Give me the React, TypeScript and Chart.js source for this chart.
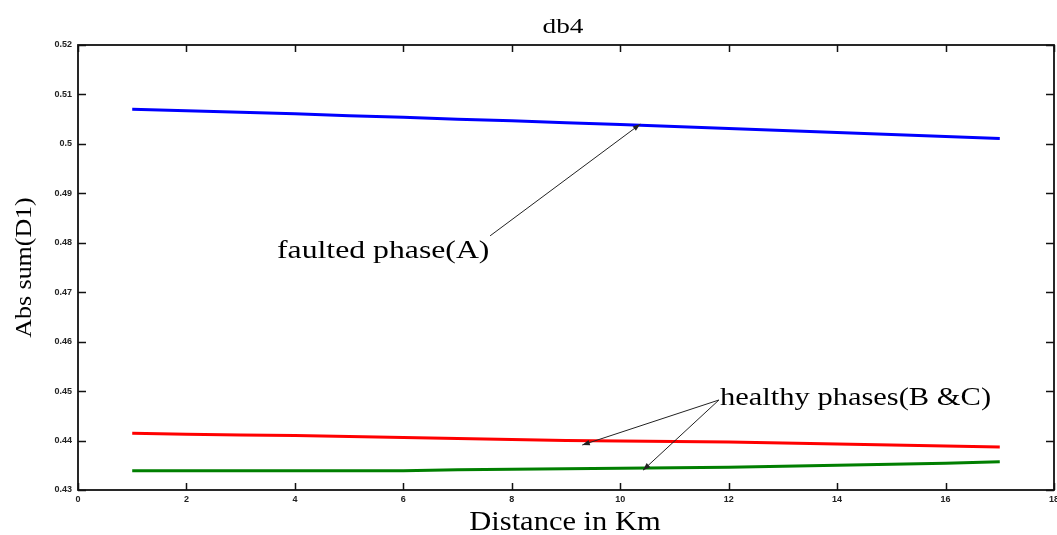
import { useEffect, useRef } from 'react';
import { Chart, registerables } from 'chart.js';

Chart.register(...registerables);

// ---- data ----
const distanceKm = [1, 2, 3, 4, 5, 6, 7, 8, 9, 10, 11, 12, 13, 14, 15, 16, 17];
const faultedPhaseA = [0.5070, 0.5067, 0.5064, 0.5061, 0.5057, 0.5054, 0.5050, 0.5047, 0.5043, 0.5039, 0.5035, 0.5031, 0.5027, 0.5023, 0.5019, 0.5015, 0.5011];
const healthyPhaseB = [0.4415, 0.4413, 0.4411, 0.441, 0.4408, 0.4406, 0.4404, 0.4402, 0.44, 0.4399, 0.4398, 0.4397, 0.4395, 0.4393, 0.4391, 0.4389, 0.4387];
const healthyPhaseC = [0.4339, 0.4339, 0.4339, 0.4339, 0.4339, 0.4339, 0.4341, 0.4342, 0.4343, 0.4344, 0.4345, 0.4346, 0.4348, 0.435, 0.4352, 0.4354, 0.4357];
const xTickValues = [0, 2, 4, 6, 8, 10, 12, 14, 16, 18];
const yTickValues = [0.43, 0.44, 0.45, 0.46, 0.47, 0.48, 0.49, 0.5, 0.51, 0.52];
const chartTitle = 'db4';
const xAxisTitle = 'Distance in Km';
const yAxisTitle = 'Abs sum(D1)';
const faultedLabel = 'faulted phase(A)';
const healthyLabel = 'healthy phases(B &C)';
// annotation anchors (data units)
const faultedTextAt = { x: 3.67, y: 0.4769 };
const faultedArrowFrom = { x: 7.6, y: 0.4814 };
const faultedArrowTo = { x: 10.37, y: 0.504 };
const healthyTextAt = { x: 11.84, y: 0.4472 };
const healthyArrowFrom = { x: 11.82, y: 0.4482 };
const healthyArrowToB = { x: 9.3, y: 0.4391 };
const healthyArrowToC = { x: 10.42, y: 0.434 };

const SERIF = '"Liberation Serif", "Times New Roman", serif';

function drawStretched(ctx: CanvasRenderingContext2D, text: string, x: number, y: number, font: string, sx: number, align: CanvasTextAlign) {
  ctx.save();
  ctx.font = font;
  ctx.textAlign = align;
  ctx.textBaseline = 'alphabetic';
  ctx.translate(x, y);
  ctx.scale(sx, 1);
  ctx.fillText(text, 0, 0);
  ctx.restore();
}

function drawArrow(ctx: CanvasRenderingContext2D, x1: number, y1: number, x2: number, y2: number) {
  ctx.save();
  ctx.strokeStyle = '#222';
  ctx.fillStyle = '#222';
  ctx.lineWidth = 1;
  ctx.beginPath();
  ctx.moveTo(x1, y1);
  ctx.lineTo(x2, y2);
  ctx.stroke();
  const a = Math.atan2(y2 - y1, x2 - x1);
  const len = 8;
  const w = 0.35;
  ctx.beginPath();
  ctx.moveTo(x2, y2);
  ctx.lineTo(x2 - len * Math.cos(a - w), y2 - len * Math.sin(a - w));
  ctx.lineTo(x2 - len * Math.cos(a + w), y2 - len * Math.sin(a + w));
  ctx.closePath();
  ctx.fill();
  ctx.restore();
}

const decorPlugin = {
  id: 'decor',
  afterDraw(chart: any) {
    const { ctx, chartArea, scales } = chart;
    const xs = scales.x;
    const ys = scales.y;
    const { left, right, top, bottom } = chartArea;
    ctx.save();
    // frame
    ctx.strokeStyle = '#111';
    ctx.lineWidth = 1.8;
    ctx.strokeRect(left, top, right - left, bottom - top);
    // inward ticks
    ctx.lineWidth = 1.5;
    ctx.beginPath();
    xTickValues.forEach((v) => {
      const px = Math.round(xs.getPixelForValue(v)) + 0.5;
      ctx.moveTo(px, bottom);
      ctx.lineTo(px, bottom - 7);
      ctx.moveTo(px, top);
      ctx.lineTo(px, top + 7);
    });
    yTickValues.forEach((v) => {
      const py = Math.round(ys.getPixelForValue(v)) + 0.5;
      ctx.moveTo(left, py);
      ctx.lineTo(left + 8, py);
      ctx.moveTo(right, py);
      ctx.lineTo(right - 8, py);
    });
    ctx.stroke();

    ctx.fillStyle = '#000';
    const cx = (left + right) / 2;
    // title
    drawStretched(ctx, chartTitle, cx - 3, top - 12, `21px ${SERIF}`, 1.3, 'center');
    // x title
    drawStretched(ctx, xAxisTitle, cx - 1, bottom + 40, `27px ${SERIF}`, 1.13, 'center');
    // y title
    ctx.save();
    ctx.translate(31, (top + bottom) / 2);
    ctx.rotate(-Math.PI / 2);
    drawStretched(ctx, yAxisTitle, 0, 0, `24px ${SERIF}`, 1.08, 'center');
    ctx.restore();

    // annotations
    drawStretched(ctx, faultedLabel, xs.getPixelForValue(faultedTextAt.x), ys.getPixelForValue(faultedTextAt.y), `25px ${SERIF}`, 1.27, 'left');
    drawStretched(ctx, healthyLabel, xs.getPixelForValue(healthyTextAt.x), ys.getPixelForValue(healthyTextAt.y), `25px ${SERIF}`, 1.22, 'left');
    drawArrow(ctx, xs.getPixelForValue(faultedArrowFrom.x), ys.getPixelForValue(faultedArrowFrom.y), xs.getPixelForValue(faultedArrowTo.x), ys.getPixelForValue(faultedArrowTo.y));
    drawArrow(ctx, xs.getPixelForValue(healthyArrowFrom.x), ys.getPixelForValue(healthyArrowFrom.y), xs.getPixelForValue(healthyArrowToB.x), ys.getPixelForValue(healthyArrowToB.y));
    drawArrow(ctx, xs.getPixelForValue(healthyArrowFrom.x), ys.getPixelForValue(healthyArrowFrom.y), xs.getPixelForValue(healthyArrowToC.x), ys.getPixelForValue(healthyArrowToC.y));
    ctx.restore();
  },
};

function toPoints(values: number[]) {
  return values.map((v, i) => ({ x: distanceKm[i], y: v }));
}

export default function App() {
  const canvasRef = useRef<HTMLCanvasElement | null>(null);

  useEffect(() => {
    if (!canvasRef.current) return;
    const lineDs = (label: string, values: number[], color: string) => ({
      label,
      data: toPoints(values),
      borderColor: color,
      backgroundColor: color,
      borderWidth: 3,
      pointRadius: 0,
      tension: 0,
      fill: false,
    });
    const chart = new Chart(canvasRef.current, {
      type: 'line',
      data: {
        datasets: [
          lineDs('Phase A', faultedPhaseA, '#0000ff'),
          lineDs('Phase B', healthyPhaseB, '#ff0000'),
          lineDs('Phase C', healthyPhaseC, '#007f00'),
        ],
      },
      options: {
        animation: false,
        responsive: false,
        devicePixelRatio: 1,
        layout: { padding: { top: 45, right: 3, left: 0, bottom: 0 } },
        plugins: {
          legend: { display: false },
          tooltip: { enabled: false },
          title: { display: false },
        },
        scales: {
          x: {
            type: 'linear',
            min: 0,
            max: 18,
            grid: { display: false, drawTicks: false },
            border: { display: false },
            afterBuildTicks: (s: any) => {
              s.ticks = xTickValues.map((v) => ({ value: v }));
            },
            afterFit: (s: any) => {
              s.height = 45;
              s.paddingLeft = 0;
              s.paddingRight = 0;
            },
            ticks: {
              autoSkip: false,
              maxRotation: 0,
              padding: 4,
              color: '#222',
              font: { family: '"Liberation Sans", Arial, sans-serif', size: 9, weight: 'bold' },
              callback: (v: any) => String(v),
            },
          },
          y: {
            type: 'linear',
            min: 0.43,
            max: 0.52,
            grid: { display: false, drawTicks: false },
            border: { display: false },
            afterBuildTicks: (s: any) => {
              s.ticks = yTickValues.map((v) => ({ value: v }));
            },
            afterFit: (s: any) => {
              s.width = 78;
              s.paddingTop = 0;
              s.paddingBottom = 0;
            },
            ticks: {
              autoSkip: false,
              padding: 6,
              color: '#222',
              font: { family: '"Liberation Sans", Arial, sans-serif', size: 9, weight: 'bold' },
              callback: (v: any) => String(parseFloat(Number(v).toFixed(2))),
            },
          },
        },
      } as any,
      plugins: [decorPlugin],
    });
    return () => chart.destroy();
  }, []);

  return (
    <div style={{ position: 'fixed', left: 0, top: 0, width: 1057, height: 535, background: '#fff' }}>
      <canvas ref={canvasRef} width={1057} height={535} style={{ display: 'block' }} />
    </div>
  );
}
